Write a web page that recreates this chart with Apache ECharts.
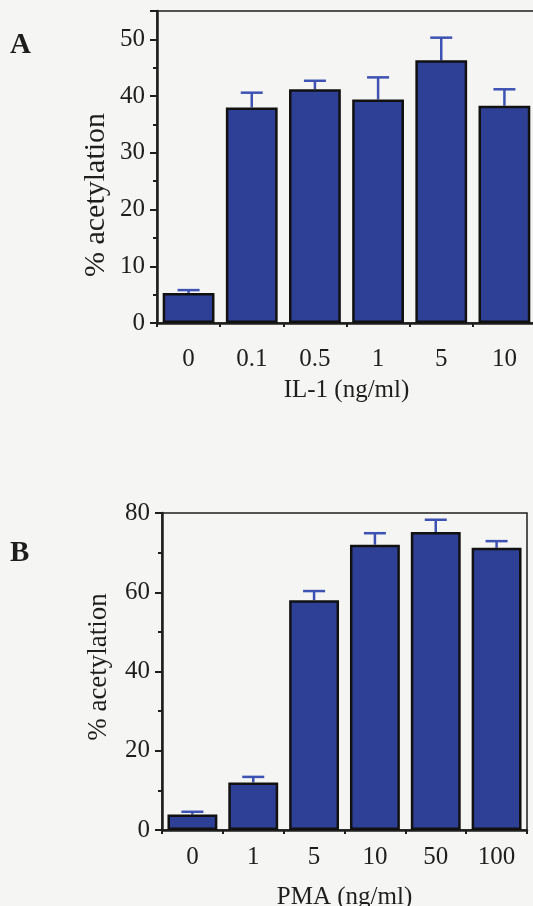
<!DOCTYPE html>
<html>
<head>
<meta charset="utf-8">
<title>% acetylation</title>
<script src="https://cdn.jsdelivr.net/npm/echarts@6/dist/echarts.min.js"></script>
<style>
  html, body { margin: 0; padding: 0; background: #f5f5f3; }
  #chart { width: 533px; height: 906px; }
</style>
</head>
<body>
<div id="chart"></div>
<script>
// panel A: IL-1
var catsA = ['0', '0.1', '0.5', '1', '5', '10'];
var meanA = [5.3, 38.0, 41.2, 39.4, 46.3, 38.3];
var errA = [0.5, 2.6, 1.5, 3.9, 4.0, 2.9];
var ticksA = [0, 10, 20, 30, 40, 50];

// panel B: PMA
var catsB = ['0', '1', '5', '10', '50', '100'];
var meanB = [3.9, 12.0, 58.0, 72.0, 75.2, 71.2];
var errB = [0.7, 1.4, 2.3, 2.9, 3.1, 1.7];
var ticksB = [0, 20, 40, 60, 80];

var font = 'Liberation Serif';
var ink = '#1e1e1e';
var barColor = '#2e3f96';
var errColor = '#3d52b2';

function errItem(params, api) {
    var x = api.value(0);
    var top = api.value(1) + api.value(2);
    var p0 = api.coord([x, api.value(1)]);
    var p1 = api.coord([x, top]);
    return {
        type: 'group',
        children: [
            { type: 'line', shape: { x1: p0[0], y1: p0[1], x2: p1[0], y2: p1[1] }, style: { stroke: errColor, lineWidth: 2.5 } },
            { type: 'line', shape: { x1: p1[0] - 11, y1: p1[1], x2: p1[0] + 11, y2: p1[1] }, style: { stroke: errColor, lineWidth: 2.5 } }
        ]
    };
}

function errData(cats, mean, err) {
    return cats.map(function (c, i) { return [i, mean[i], err[i]]; });
}

function xAxisOf(idx, cats, name, margin) {
    return {
        type: 'category', gridIndex: idx, data: cats,
        name: name, nameLocation: 'middle', nameGap: 55,
        nameTextStyle: { fontFamily: font, fontSize: 25, color: ink },
        axisLine: { lineStyle: { color: ink, width: 2.5 } },
        axisTick: { show: true, length: 4, lineStyle: { color: ink, width: 2 } },
        axisLabel: { fontFamily: font, fontSize: 25, color: ink, margin: margin }
    };
}

function yAxisOf(idx, max, interval, ticks) {
    return {
        type: 'value', gridIndex: idx, min: 0, max: max, interval: interval,
        axisLine: { show: true, lineStyle: { color: ink, width: 2.5 } },
        axisTick: { show: true, length: 7, lineStyle: { color: ink, width: 2 } },
        minorTick: { show: true, splitNumber: 2, length: 4, lineStyle: { color: ink, width: 2 } },
        splitLine: { show: false },
        axisLabel: {
            fontFamily: font, fontSize: 25, color: ink, margin: 12,
            formatter: function (v) { return ticks.indexOf(v) >= 0 ? String(v) : ''; }
        }
    };
}

var chart = echarts.init(document.getElementById('chart'), null, { renderer: 'canvas' });

var option = {
    backgroundColor: '#f5f5f3',
    animation: false,
    grid: [
        { left: 157, top: 11, width: 379, height: 312, show: true, borderColor: ink, borderWidth: 1.5, backgroundColor: 'transparent', containLabel: false, outerBoundsMode: 'none' },
        { left: 162, top: 513, width: 365, height: 317, show: true, borderColor: ink, borderWidth: 1.5, backgroundColor: 'transparent', containLabel: false, outerBoundsMode: 'none' }
    ],
    xAxis: [
        xAxisOf(0, catsA, 'IL-1 (ng/ml)', 24),
        xAxisOf(1, catsB, 'PMA (ng/ml)', 15)
    ],
    yAxis: [
        yAxisOf(0, 55, 10, ticksA),
        yAxisOf(1, 80, 20, ticksB)
    ],
    graphic: [
        { type: 'text', left: 10, top: 31, style: { text: 'A', fontFamily: font, fontWeight: 'bold', fontSize: 29, fill: ink } },
        { type: 'text', left: 10, top: 539, style: { text: 'B', fontFamily: font, fontWeight: 'bold', fontSize: 29, fill: ink } },
        { type: 'text', x: 96, y: 195, rotation: Math.PI / 2, style: { text: '% acetylation', fontFamily: font, fontSize: 30, fill: ink, align: 'center', verticalAlign: 'middle' } },
        { type: 'text', x: 99, y: 667, rotation: Math.PI / 2, style: { text: '% acetylation', fontFamily: font, fontSize: 27, fill: ink, align: 'center', verticalAlign: 'middle' } }
    ],
    series: [
        {
            name: 'IL-1', type: 'bar', xAxisIndex: 0, yAxisIndex: 0, data: meanA, barWidth: '82%',
            itemStyle: { color: barColor, borderColor: '#111', borderWidth: 2.5 }
        },
        {
            name: 'IL-1 err', type: 'custom', xAxisIndex: 0, yAxisIndex: 0,
            data: errData(catsA, meanA, errA), renderItem: errItem, z: 1
        },
        {
            name: 'PMA', type: 'bar', xAxisIndex: 1, yAxisIndex: 1, data: meanB, barWidth: '82%',
            itemStyle: { color: barColor, borderColor: '#111', borderWidth: 2.5 }
        },
        {
            name: 'PMA err', type: 'custom', xAxisIndex: 1, yAxisIndex: 1,
            data: errData(catsB, meanB, errB), renderItem: errItem, z: 1
        }
    ]
};

chart.setOption(option);
</script>
</body>
</html>
